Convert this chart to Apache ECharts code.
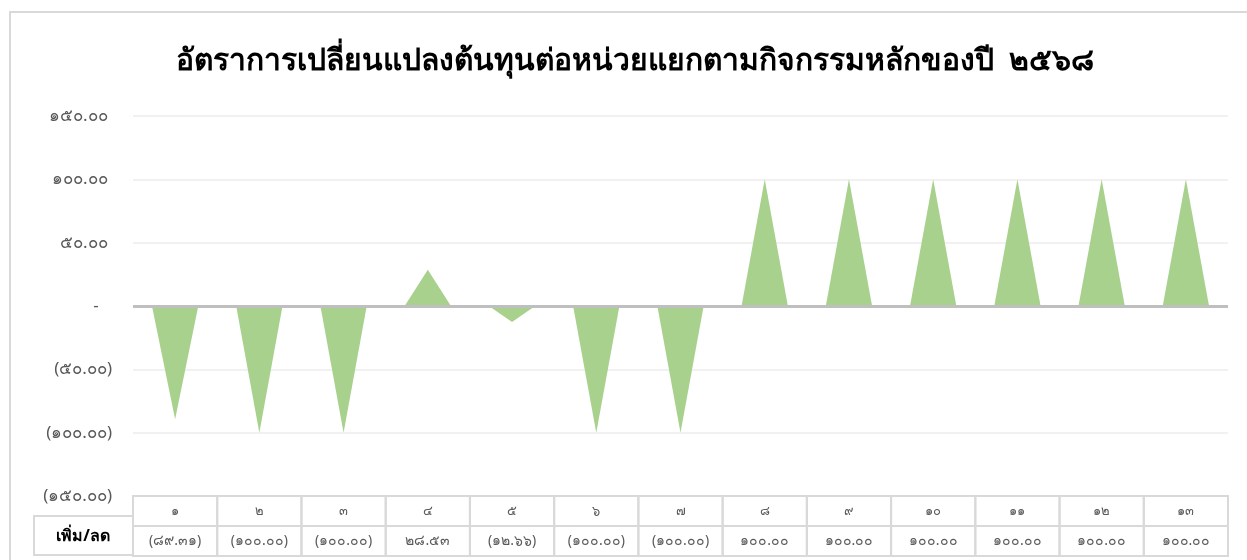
<!DOCTYPE html>
<html>
<head>
<meta charset="utf-8">
<script src="https://cdn.jsdelivr.net/npm/echarts@6/dist/echarts.min.js"></script>
<style>
  html, body { margin: 0; padding: 0; background: #fff; }
  #chart { width: 1247px; height: 560px; }
</style>
</head>
<body>
<div id="chart"></div>
<script>
// activity numbers (Thai numerals)
const categories = ['๑', '๒', '๓', '๔', '๕', '๖', '๗', '๘', '๙', '๑๐', '๑๑', '๑๒', '๑๓']
// % change of unit cost per activity
const values = [-89.31, -100, -100, 28.53, -12.66, -100, -100, 100, 100, 100, 100, 100, 100]
const rowLabel = 'เพิ่ม/ลด'
const titleText = 'อัตราการเปลี่ยนแปลงต้นทุนต่อหน่วยแยกตามกิจกรรมหลักของปี  ๒๕๖๘'

const thaiDigits = ['๐', '๑', '๒', '๓', '๔', '๕', '๖', '๗', '๘', '๙']
function toThai(s) {
  return String(s).replace(/[0-9]/g, d => thaiDigits[+d])
}
function fmt(v) {
  if (v === 0) return '-'
  const s = toThai(Math.abs(v).toFixed(2))
  return v < 0 ? '(' + s + ')' : s
}
// excel accounting style: keep room for the closing bracket
function axisFmt(v) {
  if (v === 0) return '-   '
  return v < 0 ? fmt(v) : fmt(v) + ' '
}

const gridLeft = 133
const gridRight = 19
const catW = (1247 - gridLeft - gridRight) / categories.length
const cellH = 30
const border = '#d9d9d9'
const textColor = '#595959'
const fontFamily = 'Tahoma, "Noto Sans", sans-serif'

const chart = echarts.init(document.getElementById('chart'))

chart.setOption({
  animation: false,
  title: {
    text: titleText,
    left: 630,
    textAlign: 'center',
    top: 41,
    textStyle: { fontSize: 30, fontWeight: 'bold', color: '#000', fontFamily: fontFamily }
  },
  grid: { left: gridLeft, right: gridRight, top: 116, bottom: 64 },
  xAxis: {
    type: 'category',
    data: categories,
    axisLine: { show: false },
    axisTick: { show: false },
    axisLabel: {
      margin: 0,
      interval: 0,
      formatter: (val, i) => '{h|' + val + '}\n{v|' + fmt(values[i]) + '}',
      rich: {
        h: {
          width: catW, height: cellH, lineHeight: cellH, align: 'center',
          borderColor: border, borderWidth: 2,
          color: textColor, fontSize: 13, fontFamily: fontFamily
        },
        v: {
          width: catW, height: cellH, lineHeight: cellH, align: 'center',
          borderColor: border, borderWidth: 2,
          color: textColor, fontSize: 14, fontFamily: fontFamily
        }
      }
    }
  },
  yAxis: {
    type: 'value',
    min: -150,
    max: 150,
    interval: 50,
    axisLine: { show: false },
    axisTick: { show: false },
    axisLabel: {
      margin: 21,
      color: textColor,
      fontSize: 17,
      fontFamily: fontFamily,
      formatter: v => axisFmt(v)
    },
    splitLine: { lineStyle: { color: '#ececec', width: 1.5 } }
  },
  series: [
    {
      type: 'custom',
      data: values.map((v, i) => [i, v]),
      renderItem: (params, api) => {
        const base = api.coord([api.value(0), 0])
        const tip = api.coord([api.value(0), api.value(1)])
        const w = api.size([1, 0])[0] * 0.55
        return {
          type: 'polygon',
          shape: { points: [[base[0] - w / 2, base[1]], [base[0] + w / 2, base[1]], [tip[0], tip[1]]] },
          style: { fill: '#a9d18e' }
        }
      },
      z: 2
    },
    {
      // zero line drawn over the triangles
      type: 'line',
      data: [],
      markLine: {
        silent: true,
        symbol: 'none',
        label: { show: false },
        lineStyle: { color: '#bfbfbf', width: 3, type: 'solid' },
        data: [{ yAxis: 0 }]
      },
      z: 3
    }
  ],
  graphic: [
    {
      type: 'rect',
      shape: { x: 10, y: 12, width: 1260, height: 600 },
      style: { fill: 'none', stroke: border, lineWidth: 2 },
      silent: true
    },
    {
      type: 'rect',
      shape: { x: 34, y: 516, width: 99, height: 39 },
      style: { fill: '#fff', stroke: border, lineWidth: 2 },
      silent: true
    },
    {
      type: 'text',
      x: 83,
      y: 536,
      style: {
        text: rowLabel, align: 'center', verticalAlign: 'middle',
        fill: '#000', fontSize: 16, fontWeight: 'bold', fontFamily: fontFamily
      }
    }
  ]
})
</script>
</body>
</html>
